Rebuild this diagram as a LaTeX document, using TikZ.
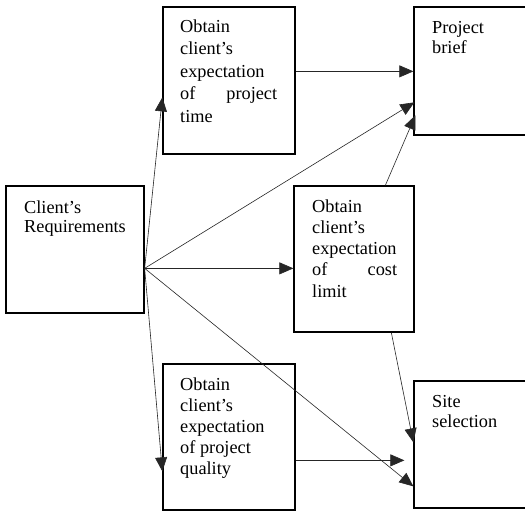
\documentclass[tikz,border=0pt]{standalone}
\usepackage{fontspec}
\setmainfont{Liberation Serif}
\usetikzlibrary{arrows.meta,calc}
\begin{document}
\begin{tikzpicture}[x=1pt,y=-1pt,
  box/.style={draw=black,line width=1.3pt,inner sep=0pt,minimum width=#1},
  txt/.style={anchor=north west,inner sep=0pt,align=left,font=\fontsize{18.3}{#1}\selectfont},
  conn/.style={draw=black!85,line width=0.6pt,-{Triangle[length=14pt,width=12pt]}},
  plain/.style={draw=black!80,line width=0.6pt}]
\useasboundingbox (0,0) rectangle (525,512);
\clip (0,0) rectangle (525,512);
\fill[white] (0,0) rectangle (525,512);
% boxes
\node[box=138pt,minimum height=127pt] (A) at (75,249.5) {};
\node[box=132pt,minimum height=147pt] (T) at (229,80.5) {};
\node[box=120pt,minimum height=128pt] (P) at (474,71) {};
\node[box=120pt,minimum height=146pt] (C) at (354,259) {};
\node[box=132pt,minimum height=146pt] (Q) at (229,437) {};
\node[box=120pt,minimum height=127pt] (S) at (474,444.5) {};
% texts (strut 15pt above first baseline)
\newcommand{\fs}{\rule{0pt}{15pt}}
\node[txt=19.5pt] (tA) at (24,198) {\fs Client’s\\Requirements};
\node[txt=22.5pt] (tT) at (180,17) {\fs Obtain\\client’s\\expectation\\\hbox to 97pt{of\hfill project}\\time};
\node[txt=20pt] (tP) at (432,18) {\fs Project\\brief};
\node[txt=21.2pt] (tC) at (312,197) {\fs Obtain\\client’s\\expectation\\\hbox to 85pt{of\hfill cost}\\limit};
\node[txt=21pt] (tQ) at (180,375) {\fs Obtain\\client’s\\expectation\\of project\\quality};
\node[txt=20pt] (tS) at (432,392) {\fs Site\\selection};
% connector end points
\coordinate (o) at ($(A.north east)+(0,83)$);
\coordinate (eT) at ($(T.north west)+(0,91)$);
\coordinate (eP1) at ($(P.north west)+(1,96)$);
\coordinate (eC) at ($(C.north west)+(0,83)$);
\coordinate (eQ) at ($(Q.north west)+(0,108)$);
\coordinate (eS1) at ($(S.north west)+(0,106)$);
\coordinate (sTP) at ($(T.north east)+(0,65)$);
\coordinate (eTP) at ($(P.north west)+(0,65)$);
\coordinate (sCP) at ($(C.north west)+(92,0)$);
\coordinate (eCP) at ($(P.north west)+(2,109)$);
\coordinate (sCS) at ($(C.south west)+(98,0)$);
\coordinate (eCS) at ($(S.north west)+(0,62)$);
\coordinate (sQS) at ($(Q.north east)+(0,97)$);
\coordinate (eQS) at ($(S.north west)+(-9,80)$);
% connectors
\draw[conn] (o) -- (eT);
\draw[conn] (o) -- (eP1);
\draw[conn] (o) -- (eC);
\draw[conn] (o) -- (eQ);
\draw[conn] (o) -- (eS1);
\draw[conn] (sTP) -- (eTP);
\draw[conn] (sCP) -- (eCP);
\draw[conn] (sCS) -- (eCS);
\draw[conn] (sQS) -- (eQS);
\end{tikzpicture}
\end{document}
